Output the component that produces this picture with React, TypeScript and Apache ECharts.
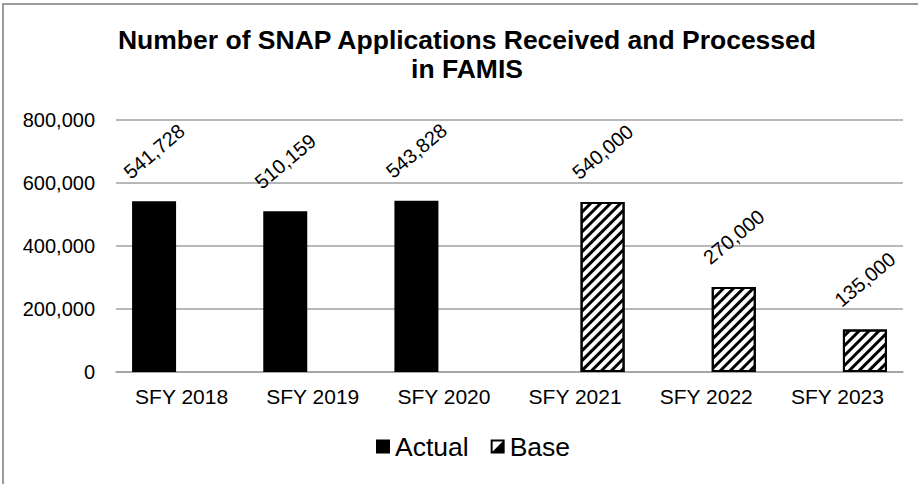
import React, { useEffect, useRef } from "react";
import * as echarts from "echarts";

const categories = ["SFY 2018", "SFY 2019", "SFY 2020", "SFY 2021", "SFY 2022", "SFY 2023"];
const actualValues = [541728, 510159, 543828, null, null, null];
const baseValues = [null, null, null, 540000, 270000, 135000];
const titleText = "Number of SNAP Applications Received and Processed\nin FAMIS";
const seriesNames = ["Actual", "Base"];

const FONT = "'Liberation Sans', Arial, sans-serif";
const fmt = (v: number) => v.toLocaleString("en-US");

export default function App() {
  const ref = useRef<HTMLDivElement>(null);
  useEffect(() => {
    if (!ref.current) return;
    const chart = echarts.init(ref.current, null, { renderer: "svg" });
    const labelCfg = {
      show: true,
      position: "top",
      distance: 50,
      rotate: 40,
      align: "center",
      verticalAlign: "middle",
      color: "#000",
      fontFamily: FONT,
      fontSize: 20,
      formatter: (p: any) => fmt(p.value),
    };
    chart.setOption({
      animation: false,
      backgroundColor: "#fff",
      textStyle: { fontFamily: FONT },
      title: {
        text: titleText,
        left: 462,
        top: 20,
        textAlign: "center",
        textStyle: { fontFamily: FONT, fontSize: 26.5, fontWeight: "bold", color: "#000", lineHeight: 29 },
      },
      graphic: [
        {
          type: "rect",
          shape: { x: 3, y: 4, width: 940, height: 520 },
          style: { fill: "none", stroke: "#9a9a9a", lineWidth: 2 },
          silent: true,
        },
      ],
      legend: {
        bottom: 19,
        left: 371,
        itemWidth: 14,
        itemHeight: 14,
        itemGap: 22,
        textStyle: { fontFamily: FONT, fontSize: 26.5, color: "#000" },
        data: [
          { name: seriesNames[0], icon: "rect", itemStyle: { color: "#000" } },
          {
            name: seriesNames[1],
            icon: "path://M0,0H14V14H0Z M2,2V12H12V2Z M12,2L12,12L2,12Z",
            itemStyle: { color: "#000", borderWidth: 0, decal: "none" },
          },
        ],
      },
      grid: { left: 116, right: 15, top: 120, bottom: 112 },
      xAxis: {
        type: "category",
        data: categories,
        axisLine: { lineStyle: { color: "#a0a0a0", width: 1.5 } },
        axisTick: { show: false },
        axisLabel: { color: "#000", fontSize: 21, fontFamily: FONT, margin: 14 },
      },
      yAxis: {
        type: "value",
        min: 0,
        max: 800000,
        interval: 200000,
        axisLine: { show: false },
        axisTick: { show: false },
        splitLine: { lineStyle: { color: "#a0a0a0", width: 1.5 } },
        axisLabel: { color: "#000", fontSize: 20, fontFamily: FONT, margin: 21, formatter: (v: number) => fmt(v) },
      },
      series: [
        {
          name: seriesNames[0],
          type: "bar",
          data: actualValues,
          barWidth: 44,
          barGap: "25%",
          itemStyle: { color: "#000" },
          label: labelCfg,
        },
        {
          name: seriesNames[1],
          type: "bar",
          data: baseValues,
          barWidth: 44,
          barGap: "25%",
          itemStyle: {
            color: "#fff",
            borderColor: "#000",
            borderWidth: 2,
            decal: {
              symbol: "rect",
              symbolSize: 1,
              dashArrayX: [1, 0],
              dashArrayY: [3, 4],
              rotation: -Math.PI / 4,
              color: "#000",
            },
          },
          label: labelCfg,
        },
      ],
    });
    return () => chart.dispose();
  }, []);
  return <div ref={ref} style={{ position: "fixed", left: 0, top: 0, width: 918, height: 484 }} />;
}
